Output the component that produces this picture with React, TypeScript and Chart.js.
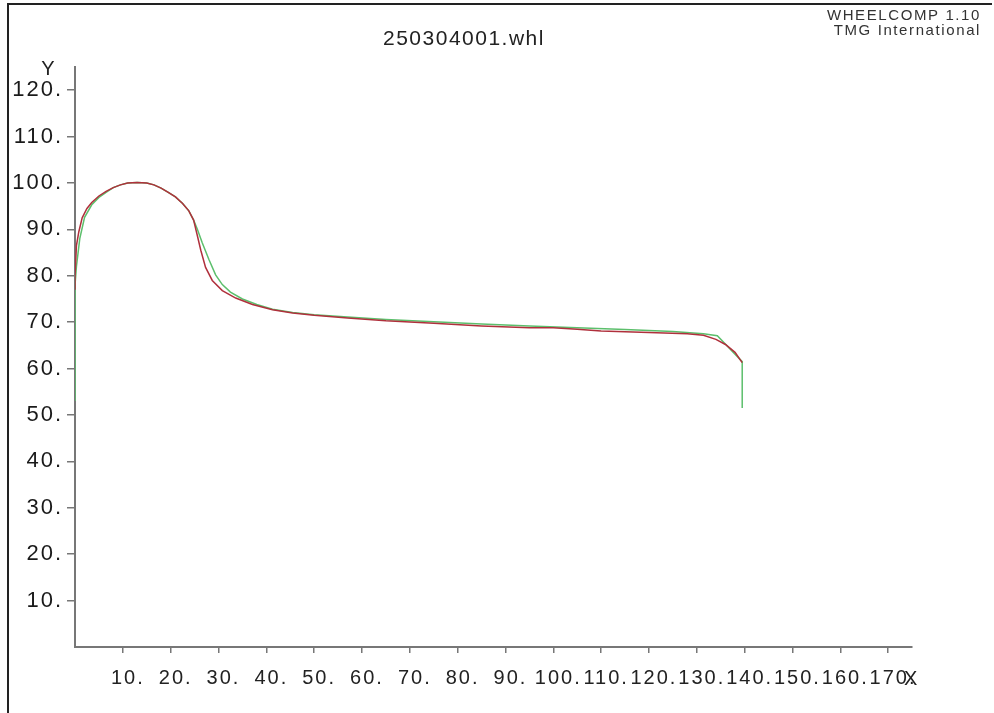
import React, { useEffect, useRef } from "react";
import { Chart, registerables } from "chart.js";

Chart.register(...registerables);

const TITLE = "250304001.whl";
const HEADER_1 = "WHEELCOMP 1.10";
const HEADER_2 = "TMG International";

const X_TICKS = [10, 20, 30, 40, 50, 60, 70, 80, 90, 100, 110, 120, 130, 140, 150, 160, 170];
const Y_TICKS = [10, 20, 30, 40, 50, 60, 70, 80, 90, 100, 110, 120];

const RED_X = [0, 0, 0.3, 0.8, 1.5, 2.5, 3.5, 5, 6.5, 8, 9.5, 11, 13, 15, 16.5, 18, 19.5, 21, 22.5, 23.8, 24.8, 25.5, 26.3, 27.3, 28.7, 30.8, 33.6, 37.1, 41.3, 45.5, 50, 57, 65, 75, 85, 95, 100, 105, 110, 120, 128, 131.4, 134, 136, 138, 139.5];
const RED_Y = [77, 80, 86.5, 89.5, 92.5, 94.5, 95.8, 97.2, 98.2, 99, 99.6, 100, 100.1, 100, 99.6, 98.9, 98, 97, 95.6, 94, 92, 89, 85.5, 81.8, 79, 76.8, 75.2, 73.8, 72.7, 72, 71.5, 70.9, 70.3, 69.8, 69.2, 68.8, 68.8, 68.5, 68.1, 67.8, 67.5, 67.2, 66.3, 65.2, 63.5, 61.3];

const GREEN_X = [0, 0, 0.3, 1, 2, 3.5, 5, 6.5, 8, 9.5, 11, 13, 15, 16.5, 18, 19.5, 21, 22.5, 23.8, 24.8, 25.6, 26.6, 28, 29.4, 30.8, 32.5, 35, 38, 41.3, 45.5, 50, 57, 65, 75, 85, 95, 105, 115, 125, 131.4, 134.3, 139.5, 139.5];
const GREEN_Y = [53, 78, 82, 88, 92.6, 95.3, 96.9, 98, 99, 99.6, 100, 100.1, 100, 99.6, 98.9, 98, 97, 95.6, 94, 92, 90, 87.1, 83.5, 80.2, 78.1, 76.5, 75, 73.8, 72.8, 72.1, 71.6, 71.1, 70.6, 70.1, 69.6, 69.2, 68.8, 68.4, 68, 67.5, 67.1, 61.5, 51.5];

const FONT = "'Liberation Sans', Arial, sans-serif";

const textPlugin = {
  id: "textPlugin",
  beforeDraw(chart: any) {
    (chart.ctx as any).letterSpacing = "2px";
  },
  afterDraw(chart: any) {
    const ctx = chart.ctx as any;
    const area = chart.chartArea;
    ctx.save();
    ctx.fillStyle = "#222";
    ctx.textBaseline = "alphabetic";
    // title
    ctx.letterSpacing = "1.5px";
    ctx.font = `21px ${FONT}`;
    ctx.textAlign = "left";
    ctx.fillText(TITLE, 383, 45);
    // header
    ctx.fillStyle = "#333";
    ctx.letterSpacing = "1.6px";
    ctx.font = `15px ${FONT}`;
    ctx.textAlign = "right";
    ctx.fillText(HEADER_1, 981, 20);
    ctx.fillText(HEADER_2, 981, 35);
    // axis letters
    ctx.fillStyle = "#222";
    ctx.letterSpacing = "0px";
    ctx.font = `20px ${FONT}`;
    ctx.textAlign = "center";
    ctx.fillText("Y", area.left - 27, area.top + 8);
    ctx.textAlign = "left";
    ctx.fillText("X", area.right - 8, 685);
    ctx.restore();
  },
};

export default function App() {
  const ref = useRef<HTMLCanvasElement>(null);
  useEffect(() => {
    const canvas = ref.current!;
    const chart = new Chart(canvas, {
      type: "line",
      data: {
        datasets: [
          {
            data: RED_X.map((x, i) => ({ x, y: RED_Y[i] })),
            borderColor: "#b0303c",
            borderWidth: 1.5,
            pointRadius: 0,
            tension: 0,
            fill: false,
          },
          {
            data: GREEN_X.map((x, i) => ({ x, y: GREEN_Y[i] })),
            borderColor: "#5cbf6c",
            borderWidth: 1.5,
            pointRadius: 0,
            tension: 0,
            fill: false,
          },
        ],
      },
      options: {
        responsive: false,
        animation: false,
        devicePixelRatio: 1,
        layout: { padding: { top: 67, right: 82, left: 0, bottom: 0 } },
        plugins: { legend: { display: false }, tooltip: { enabled: false }, title: { display: false } },
        scales: {
          x: {
            type: "linear",
            min: 0,
            max: 175,
            afterBuildTicks: (s: any) => {
              s.ticks = X_TICKS.map((v) => ({ value: v }));
            },
            afterFit: (s: any) => {
              s.height = 66;
            },
            grid: { drawOnChartArea: false, drawTicks: true, tickLength: 6, color: "#777", lineWidth: 1.5 },
            border: { display: true, color: "#777", width: 2 },
            ticks: {
              autoSkip: false,
              maxRotation: 0,
              minRotation: 0,
              padding: 13,
              labelOffset: 5,
              color: "#222",
              font: { family: FONT, size: 20 },
              callback: (v: any) => `${v}.`,
            },
          },
          y: {
            type: "linear",
            min: 0,
            max: 125,
            afterBuildTicks: (s: any) => {
              s.ticks = Y_TICKS.map((v) => ({ value: v }));
            },
            afterFit: (s: any) => {
              s.width = 75;
            },
            grid: { drawOnChartArea: false, drawTicks: true, tickLength: 8, color: "#777", lineWidth: 1.5 },
            border: { display: true, color: "#777", width: 2 },
            ticks: {
              autoSkip: false,
              padding: 4,
              color: "#1a1a1a",
              font: { family: FONT, size: 22 },
              callback: (v: any) => `${v}.`,
            },
          },
        },
      },
      plugins: [textPlugin],
    } as any);
    return () => chart.destroy();
  }, []);
  return (
    <div style={{ position: "absolute", left: 0, top: 0, width: 994, height: 713, background: "#fff", overflow: "hidden" }}>
      <div style={{ position: "absolute", left: 7, top: 3, right: 2, bottom: -5, borderLeft: "2px solid #222", borderTop: "2px solid #222" }} />
      <canvas ref={ref} width={994} height={713} style={{ position: "absolute", left: 0, top: 0 }} />
    </div>
  );
}
